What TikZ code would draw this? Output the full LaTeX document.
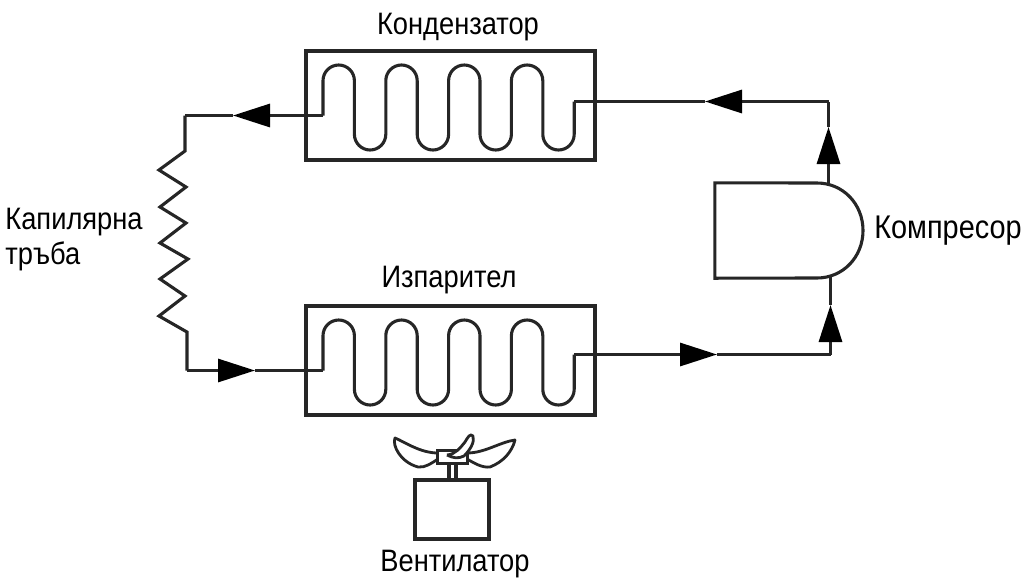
\documentclass[tikz,border=0pt]{standalone}
\usepackage{fontspec}
\setmainfont[FakeStretch=0.88]{Liberation Sans}
\usetikzlibrary{arrows.meta}
\tikzset{
  pipe/.style={line width=3.1pt, line join=miter, black!85},
  flow/.style={pipe, -{Triangle[length=37pt, width=23pt, black]}},
  unit/.style={rectangle, draw=black!85, line width=3.1pt, inner sep=0pt, minimum width=289pt, minimum height=109pt},
  blade/.style={line width=2.8pt, black!85, line join=round, fill=white},
  label/.style={font=\fontsize{31}{35}\selectfont, inner sep=0pt},
  pics/coil/.style={code={
    \coordinate (-in) at (-127.5,10);
    \coordinate (-out) at (123.7,#1);
    \draw[pipe] (-in) -- (-127.5,-10) [rounded corners=15.7pt] -- (-127.5,-40.5)
      \foreach \i in {0,1,2} { -- ++(31.4,0) -- ++(0,85) -- ++(31.4,0) -- ++(0,-85) }
      -- ++(31.4,0) -- ++(0,85) -- ++(31.4,0) -- (-out);
  }}
}
\begin{document}
\begin{tikzpicture}[x=1pt, y=-1pt]
  \useasboundingbox (0,0) rectangle (1026,582);

  % Condenser and evaporator
  \node[unit] (cond) at (450.5,105.5) {};
  \node[unit] (evap) at (450.5,360.5) {};
  \pic (cc) at (cond.center) {coil=-4};
  \pic (ec) at (evap.center) {coil=-6};

  % Compressor
  \node[minimum width=148pt, minimum height=95pt, inner sep=0pt] (comp) at (789,230.5) {};
  \draw[pipe] (817,183) -- (comp.north west) -- (comp.south west) -- (817,278)
    .. controls (843,278) and (863,257) .. (863,230.5)
    .. controls (863,204) and (843,183) .. (817,183);
  \coordinate (comptop) at (828.5,184);
  \coordinate (compbot) at (830.5,277);

  % Pipe corners
  \coordinate (ctr) at (828.5,101.5);
  \coordinate (etr) at (830.5,354.5);
  \coordinate (ctl) at (185,115.5);
  \coordinate (ebl) at (187,370.5);

  % Hot side
  \coordinate (a1) at (828.5,127);
  \draw[flow] (comptop) -- (a1);
  \draw[pipe] (a1) -- (ctr);
  \coordinate (a2) at (705,101.5);
  \draw[flow] (ctr) -- (a2);
  \draw[pipe] (a2) -- (cc-out);
  \coordinate (a3) at (233,115.5);
  \draw[flow] (cc-in) -- (a3);
  \draw[pipe] (a3) -- (ctl);

  % Capillary tube
  \draw[pipe] (ctl) -- (185,151) -- (159,170) -- (186,187) -- (160,207) -- (186,223)
    -- (160,243) -- (188,259) -- (160,279) -- (185,296) -- (159,316) -- (187,332) -- (ebl);

  % Cold side
  \coordinate (a4) at (255,370.5);
  \draw[flow] (ebl) -- (a4);
  \draw[pipe] (a4) -- (ec-in);
  \coordinate (a5) at (717,354.5);
  \draw[flow] (ec-out) -- (a5);
  \draw[pipe] (a5) -- (etr);
  \coordinate (a6) at (830.5,305);
  \draw[flow] (etr) -- (a6);
  \draw[pipe] (a6) -- (compbot);

  % Fan
  \node[rectangle, draw=black!85, line width=3.1pt, inner sep=0pt, minimum width=74pt, minimum height=59pt] (motor) at (452,509.5) {};
  \node[rectangle, inner sep=0pt, minimum width=29pt, minimum height=12pt] (hub) at (452.5,457) {};
  \draw[pipe] (449,463) -- (449,480);
  \draw[pipe] (456,463) -- (456,480);
  \draw[blade] (438,453) .. controls (420,453) and (405,442) .. (395,438)
    .. controls (392,445) and (400,462) .. (418,467) .. controls (425,468) and (432,463) .. (438,459);
  \draw[blade] (467,453) .. controls (485,453) and (500,442) .. (515,440)
    .. controls (512,452) and (503,462) .. (490,467) .. controls (482,468) and (474,463) .. (467,459);
  \draw[pipe] (hub.north west) rectangle (hub.south east);
  \draw[blade] (447,455) .. controls (456,454) and (460,448) .. (465,442)
    .. controls (468,437) and (470,433) .. (473,436)
    .. controls (475,442) and (470,450) .. (464,456) .. controls (458,459) and (453,458) .. (447,455);

  % Labels
  \node[label] (condl) at (458,27) {Кондензатор};
  \node[label] (evapl) at (449,280) {Изпарител};
  \node[label, align=left] (capl) at (74,240) {Капилярна\\тръба};
  \node[label, font=\fontsize{32.8}{36}\selectfont] (compl) at (948,231) {Компресор};
  \node[label] (fanl) at (455,564) {Вентилатор};
\end{tikzpicture}
\end{document}
